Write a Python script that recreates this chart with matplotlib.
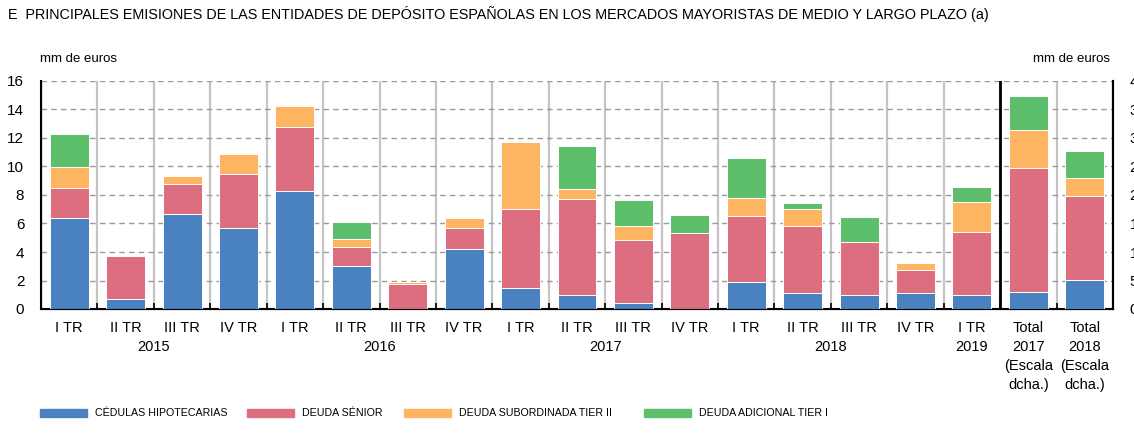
import numpy as np
import matplotlib
matplotlib.use('Agg')
import matplotlib.pyplot as plt
from matplotlib.patches import Rectangle
from matplotlib.transforms import blended_transform_factory

# quarterly issues, mm de euros (left scale)
quarters = ['I TR', 'II TR', 'III TR', 'IV TR',
            'I TR', 'II TR', 'III TR', 'IV TR',
            'I TR', 'II TR', 'III TR', 'IV TR',
            'I TR', 'II TR', 'III TR', 'IV TR',
            'I TR']
cedulas = [6.4, 0.7, 6.7, 5.7, 8.3, 3.0, 0.0, 4.2, 1.5, 0.95, 0.4, 0.0,
           1.9, 1.1, 0.95, 1.1, 1.0]
senior = [2.1, 3.0, 2.1, 3.8, 4.5, 1.35, 1.73, 1.5, 5.5, 6.75, 4.45, 5.3,
          4.65, 4.7, 3.75, 1.65, 4.4]
tier2 = [1.5, 0.0, 0.5, 1.4, 1.45, 0.55, 0.15, 0.7, 4.7, 0.7, 1.0, 0.0,
         1.25, 1.25, 0.0, 0.5, 2.1]
tier1 = [2.3, 0.0, 0.0, 0.0, 0.0, 1.2, 0.0, 0.0, 0.0, 3.05, 1.8, 1.3,
         2.8, 0.4, 1.75, 0.0, 1.05]

# yearly totals (right scale)
total_labels = ['Total\n2017\n(Escala\ndcha.)', 'Total\n2018\n(Escala\ndcha.)']
tot_cedulas = [2.9, 5.1]
tot_senior = [21.9, 14.7]
tot_tier2 = [6.55, 3.1]
tot_tier1 = [6.05, 4.9]

years = ['2015', '2016', '2017', '2018', '2019']
year_pos = [1.5, 5.5, 9.5, 13.5, 16]

series_names = ['CÉDULAS HIPOTECARIAS', 'DEUDA SÉNIOR',
                'DEUDA SUBORDINADA TIER II', 'DEUDA ADICIONAL TIER I']
colors = ['#4a81c0', '#dc6e80', '#fdb562', '#5dbe6b']

plt.rcParams['font.family'] = ['Liberation Sans', 'DejaVu Sans']

W, H = 1134, 433
fig = plt.figure(figsize=(W / 100, H / 100), dpi=100)
ax = fig.add_axes([41 / W, (H - 309) / H, (1113 - 41) / W, (309 - 81) / H])

n_q = len(quarters)
xq = np.arange(n_q)
xt = np.arange(n_q, n_q + len(total_labels))
bw = 0.69

bottom = np.zeros(n_q)
for vals, c in zip([cedulas, senior, tier2, tier1], colors):
    ax.bar(xq, vals, bw, bottom=bottom, color=c, edgecolor='white',
           linewidth=0.7, zorder=3)
    bottom += np.array(vals)

ax.set_xlim(-0.5, n_q + len(total_labels) - 0.5)
ax.set_ylim(0, 16)
ax.set_yticks(np.arange(0, 17, 2))
ax.set_xticks(np.concatenate([xq, xt]))
ax.set_xticklabels(quarters + total_labels, fontsize=10.5, linespacing=1.45,
                   va='top')
ax.set_xticks(np.arange(-0.5, n_q + len(total_labels)), minor=True)
ax.tick_params(axis='x', which='major', length=0, pad=9)
ax.tick_params(axis='x', which='minor', direction='in', length=4,
               width=1.2, color='black')
ax.tick_params(axis='y', length=0, pad=12, labelsize=11)

ax.set_axisbelow(True)
ax.grid(which='major', axis='y', color='#9a9a9a', linestyle=(0, (4, 3)),
        linewidth=1)
ax.grid(which='minor', axis='x', color='#c4c4c4', linestyle='-',
        linewidth=1.6)
ax.axvline(n_q - 0.5, color='black', linewidth=2, zorder=4)

ax.spines['top'].set_visible(False)
for s in ['left', 'bottom', 'right']:
    ax.spines[s].set_linewidth(1.5)
    ax.spines[s].set_color('black')

ax2 = ax.twinx()
ax2.set_ylim(0, 40)
ax2.set_yticks(np.arange(0, 41, 5))
ax2.tick_params(axis='y', length=0, pad=12, labelsize=11)
ax2.spines['top'].set_visible(False)
ax2.spines['right'].set_linewidth(1.5)
bottom2 = np.zeros(len(total_labels))
for vals, c in zip([tot_cedulas, tot_senior, tot_tier2, tot_tier1], colors):
    ax2.bar(xt, vals, bw, bottom=bottom2, color=c, edgecolor='white',
            linewidth=0.7, zorder=3)
    bottom2 += np.array(vals)

trans = blended_transform_factory(ax.transData, fig.transFigure)
for y, p in zip(years, year_pos):
    ax.text(p, 1 - 347 / H, y, transform=trans, ha='center', va='center',
            fontsize=10.5)

fig.text(8 / W, 1 - 14 / H,
         'E  PRINCIPALES EMISIONES DE LAS ENTIDADES DE DEPÓSITO ESPAÑOLAS EN LOS '
         'MERCADOS MAYORISTAS DE MEDIO Y LARGO PLAZO (a)',
         fontsize=10.4, ha='left', va='center')
fig.text(40 / W, 1 - 59 / H, 'mm de euros', fontsize=9.5, ha='left',
         va='center')
fig.text(1110 / W, 1 - 59 / H, 'mm de euros', fontsize=9.5, ha='right',
         va='center')

# legend drawn by hand
patch_x = [40, 247, 404, 644]
for name, c, x0 in zip(series_names, colors, patch_x):
    fig.patches.append(Rectangle((x0 / W, 1 - 417 / H), 47 / W, 8.5 / H,
                                 transform=fig.transFigure, color=c))
    fig.text((x0 + 55) / W, 1 - 413 / H, name, fontsize=7.7,
             ha='left', va='center')

fig.savefig('out.png', dpi=100)
